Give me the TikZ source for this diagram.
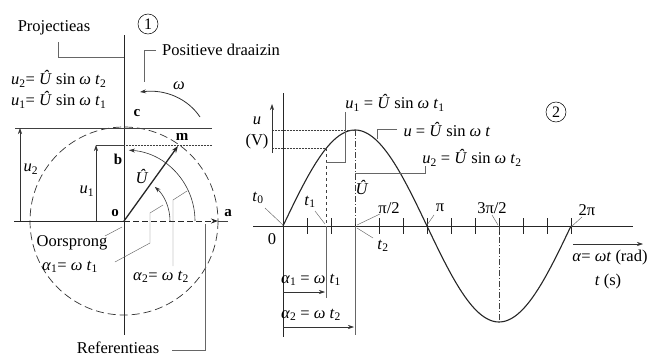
\documentclass[tikz,border=0pt]{standalone}
\usepackage{fontspec}
\setmainfont{Liberation Serif}
\usetikzlibrary{arrows.meta}
\newcommand{\vi}[1]{\textit{#1}}
\newcommand{\sbs}[1]{\textsubscript{#1}}
\begin{document}
\begin{tikzpicture}[x=1pt,y=-1pt,
  txt/.style={inner sep=0pt,font=\fontsize{16.5}{18}\selectfont},
  lbl/.style={inner sep=0pt,font=\fontsize{15}{17}\selectfont\bfseries},
  axisline/.style={line width=0.9pt,black!85},
  thin/.style={line width=0.5pt,black!75},
  lead/.style={line width=0.45pt,black!60},
  vec/.style={line width=1.3pt,black!85,-{Stealth[length=7pt,width=5pt]}},
  arr/.style={line width=0.6pt,black!80,-{Stealth[length=6pt,width=4pt]}},
  num/.style={circle,draw,line width=0.5pt,minimum size=20pt,inner sep=0pt,font=\fontsize{16}{18}\selectfont}
]
\useasboundingbox (0,0) rectangle (649,356);
% ---------------- left diagram ----------------
\coordinate (o) at (124,221);
\coordinate (axtop) at (124,35);
\coordinate (axbot) at (124,335);
\draw[axisline] (axtop) -- (axbot);
\draw[line width=0.7pt,black!80,dash pattern=on 8pt off 4pt] (o) circle[radius=94];
% horizontal reference
\coordinate (hl) at (14,221);
\coordinate (atip) at (218,221);
\coordinate (hr) at (228,221);
\draw[axisline] (hl) -- (o);
\draw[line width=0.9pt,black!85,dash pattern=on 6pt off 3pt,-{Stealth[length=7pt,width=5pt]}] (o) -- (atip);
\draw[thin] (atip) -- (hr);
% projection lines
\coordinate (p2l) at (15,128);
\coordinate (p2r) at (212,128);
\draw[thin] (p2l) -- (p2r);
\coordinate (p1l) at (96,145);
\coordinate (b) at (124,145);
\coordinate (p1r) at (212,145);
\draw[thin] (p1l) -- (b);
\draw[thin,densely dotted] (b) -- (p1r);
% u arrows
\coordinate (u2b) at (20,221);
\coordinate (u2t) at (20,128);
\draw[arr] (u2b) -- (u2t);
\coordinate (u1b) at (96,221);
\coordinate (u1t) at (96,145);
\draw[arr] (u1b) -- (u1t);
% phasor
\coordinate (m) at (178,146);
\draw[vec] (o) -- (m);
% angle arcs
\draw[arr] (170,221) arc[start angle=0,end angle=-48,radius=46];
\draw[arr] (195,221) arc[start angle=0,end angle=-86,radius=71];
% omega arrow
\coordinate (w1) at (200,117);
\coordinate (w2) at (140,92);
\draw[arr,line width=0.8pt] (w1) .. controls (188,99) and (166,89) .. (w2);
\node[txt] (om) at (179,86) {\vi{ω}};
% letters
\node[lbl] (lc) at (137,113) {c};
\node[lbl] (lm) at (182,137) {m};
\node[lbl] (lb) at (118,159) {b};
\node[lbl] (lo) at (115,213) {o};
\node[lbl] (la) at (228,213) {a};
\node[txt] (lU) at (142,176) {\vi{Û}};
\node[txt] (lu2) at (31,169) {\vi{u}\sbs{2}};
\node[txt] (lu1) at (87,191) {\vi{u}\sbs{1}};
% formulas
\node[txt,anchor=west] (f2) at (11,79) {\vi{u}\sbs{2}= \vi{Û} sin \vi{ω t}\sbs{2}};
\node[txt,anchor=west] (f1) at (11,100) {\vi{u}\sbs{1}= \vi{Û} sin \vi{ω t}\sbs{1}};
% labels with leaders
\node[txt] (proj) at (54,28) {Projectieas};
\draw[lead] (58,42) -- (58,57) -- (124,57);
\node[num] (n1) at (148,24) {1};
\node[txt,anchor=west] (pos) at (162,50) {Positieve draaizin};
\draw[lead] (156,50) -- (144,50) -- (144,82);
\node[txt] (oor) at (72,243) {Oorsprong};
\draw[lead] (105,236) -- (122,227);
\node[txt] (al1) at (70,267) {\vi{α}\sbs{1}= \vi{ω t}\sbs{1}};
\draw[lead] (115,262) -- (150,243) -- (150,213) -- (163,205);
\node[txt] (al2) at (161,277) {\vi{α}\sbs{2}= \vi{ω t}\sbs{2}};
\draw[lead] (173,266) -- (173,200) -- (187,191);
\node[txt] (ref) at (118,348) {Referentieas};
\draw[lead] (172,350) -- (205,350) -- (205,224);
% ---------------- right diagram ----------------
\coordinate (O) at (283,226);
\draw[axisline] (283,93) -- (283,337);
\draw[axisline] (253,226) -- (633,226);
\foreach \k in {1,...,12} {
  \draw[line width=1pt,black!85] (283+24*\k,218) -- (283+24*\k,234);
}
\draw[line width=1.1pt,black!85,domain=0:360,samples=120,smooth]
  plot ({283+0.8*\x},{226-96*sin(\x)});
% verticals
\coordinate (T1) at (326,148);
\draw[thin,dashed] (T1) -- (326,226);
\draw[lead] (326,226) -- (326,298);
\coordinate (P) at (355,130);
\draw[thin,dash pattern=on 6pt off 2pt on 1pt off 2pt] (P) -- (355,226);
\draw[lead] (355,226) -- (355,335);
\draw[thin,dash pattern=on 6pt off 2pt on 1pt off 2pt] (499,226) -- (499,322);
% projections to u axis
\draw[thin,densely dotted] (273,130) -- (P);
\draw[thin,densely dotted] (273,148) -- (T1);
\draw[arr] (272,153) -- (272,104);
\node[txt] (uu) at (257,121) {\vi{u}};
\node[txt] (uV) at (257,142) {(V)};
% formulas right
\node[txt] (g1) at (395,103) {\vi{u}\sbs{1} = \vi{Û} sin \vi{ω t}\sbs{1}};
\draw[lead] (326,162) -- (345,162) -- (345,112);
\node[txt] (g0) at (447,130) {\vi{u} = \vi{Û} sin \vi{ω t}};
\draw[lead] (397,129) -- (377,129) -- (377,139);
\node[txt] (g2) at (472,158) {\vi{u}\sbs{2} = \vi{Û} sin \vi{ω t}\sbs{2}};
\draw[lead] (425,166) -- (425,173) -- (355,173);
\node[txt] (rU) at (362,187) {\vi{Û}};
\node[num] (n2) at (556,112) {2};
% axis labels
\node[txt] (t0) at (258,198) {\vi{t}\sbs{0}};
\draw[lead] (265,208) -- (283,225);
\node[txt] (t1) at (310,202) {\vi{t}\sbs{1}};
\draw[lead] (315,211) -- (325,224);
\node[txt] (pi2) at (389,208) {π/2};
\draw[lead] (380,214) -- (357,225);
\node[txt] (pi1) at (440,208) {π};
\draw[lead] (434,215) -- (427,225);
\node[txt] (pi3) at (492,208) {3π/2};
\draw[lead] (492,215) -- (498,225);
\node[txt] (pi4) at (587,210) {2π};
\draw[lead] (582,217) -- (571,227);
\node[txt] (zero) at (272,239) {0};
\node[txt] (t2) at (383,246) {\vi{t}\sbs{2}};
\draw[lead] (357,228) -- (373,238);
% alpha arrows
\node[txt] (a1) at (311,280) {\vi{α}\sbs{1} = \vi{ω t}\sbs{1}};
\draw[arr] (283,292) -- (325,292);
\node[txt] (a2) at (311,315) {\vi{α}\sbs{2} = \vi{ω t}\sbs{2}};
\draw[arr] (283,327) -- (354,327);
\draw[arr] (573,244) -- (643,244);
\node[txt] (aw) at (610,258) {\vi{α}= \vi{ωt} (rad)};
\node[txt] (ts) at (608,282) {\vi{t} (s)};
\end{tikzpicture}
\end{document}
